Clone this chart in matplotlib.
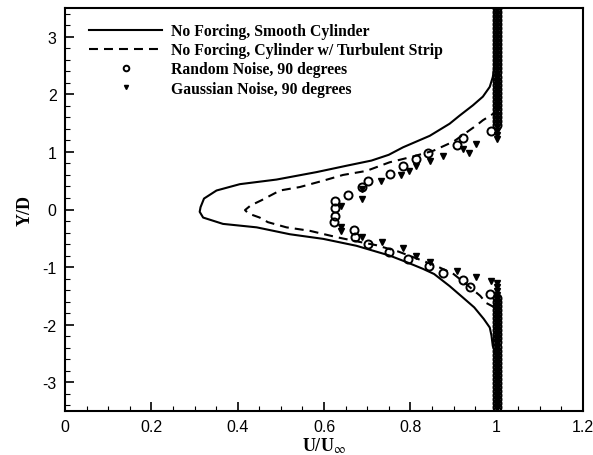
import matplotlib
matplotlib.use("Agg")
import matplotlib.pyplot as plt
from matplotlib.ticker import MultipleLocator

plt.rcParams['axes.unicode_minus'] = False
plt.rcParams['mathtext.fontset'] = 'stix'

# ---- data ----
smooth_u = [1.0, 1.0, 0.995, 0.991, 0.988, 0.984, 0.970, 0.948, 0.925, 0.891, 0.855, 0.829,
            0.790, 0.752, 0.675, 0.598, 0.521, 0.444, 0.366, 0.320, 0.312, 0.314, 0.322,
            0.351, 0.405, 0.490, 0.583, 0.652, 0.710, 0.750, 0.783, 0.845, 0.891, 0.914,
            0.945, 0.968, 0.984, 0.991, 0.995, 1.0, 1.0]
smooth_y = [-3.5, -2.55, -2.45, -2.37, -2.19, -2.05, -1.90, -1.70, -1.55, -1.33, -1.12, -1.03,
            -0.91, -0.80, -0.63, -0.51, -0.43, -0.31, -0.25, -0.14, -0.04, 0.04, 0.19,
            0.33, 0.44, 0.52, 0.65, 0.76, 0.85, 0.95, 1.08, 1.28, 1.49, 1.63,
            1.81, 1.96, 2.13, 2.30, 2.50, 2.70, 3.5]

strip_u = [1.0, 1.0, 0.975, 0.962, 0.930, 0.900, 0.860, 0.818, 0.772, 0.721, 0.667, 0.629,
           0.567, 0.513, 0.470, 0.451, 0.425, 0.417, 0.430, 0.455, 0.498, 0.544, 0.598,
           0.644, 0.698, 0.752, 0.806, 0.853, 0.900, 0.953, 0.968, 1.0, 1.0]
strip_y = [-3.5, -1.72, -1.62, -1.50, -1.30, -1.12, -0.98, -0.86, -0.73, -0.62, -0.54, -0.48,
           -0.37, -0.31, -0.22, -0.14, -0.07, -0.01, 0.07, 0.16, 0.33, 0.39, 0.50,
           0.60, 0.67, 0.82, 0.92, 1.02, 1.18, 1.46, 1.55, 1.70, 3.5]

random_u = [0.988, 0.922, 0.907, 0.841, 0.814, 0.783, 0.752, 0.702, 0.687, 0.656, 0.625,
            0.625, 0.625, 0.623, 0.670, 0.671, 0.702, 0.751, 0.795, 0.843, 0.876, 0.922,
            0.938, 0.984]
random_y = [1.37, 1.24, 1.12, 0.99, 0.88, 0.75, 0.62, 0.50, 0.39, 0.26, 0.14,
            0.02, -0.11, -0.22, -0.35, -0.48, -0.60, -0.73, -0.86, -0.98, -1.11, -1.22,
            -1.35, -1.47]

gauss_u = [0.953, 0.936, 0.922, 0.876, 0.845, 0.814, 0.798, 0.779, 0.733, 0.689, 0.687,
           0.640, 0.640, 0.640, 0.687, 0.735, 0.783, 0.814, 0.845, 0.907, 0.953, 0.988]
gauss_y = [1.14, 0.99, 1.05, 0.93, 0.85, 0.76, 0.67, 0.60, 0.50, 0.36, 0.18,
           0.06, -0.30, -0.37, -0.48, -0.56, -0.67, -0.80, -0.92, -1.06, -1.17, -1.24]

# free-stream points (U/Uinf = 1) outside the wake
freestream_u = 1.0
random_col_y = [1.47, 1.54, 1.61, 1.68, 1.75, 1.82, 1.89, 1.96, 2.03, 2.10, 2.17, 2.24, 2.31,
                2.38, 2.45, 2.52, 2.59, 2.66, 2.73, 2.80, 2.87, 2.94, 3.01, 3.08, 3.15, 3.22,
                3.29, 3.36, 3.43, 3.50,
                -1.54, -1.61, -1.68, -1.75, -1.82, -1.89, -1.96, -2.03, -2.10, -2.17, -2.24,
                -2.31, -2.38, -2.45, -2.52, -2.59, -2.66, -2.73, -2.80, -2.87, -2.94, -3.01,
                -3.08, -3.15, -3.22, -3.29, -3.36, -3.43, -3.50]
gauss_col_y = [1.23, 1.30, 1.37, 1.44, 1.51, 1.58, 1.65, 1.72, 1.79, 1.86, 1.93, 2.00, 2.07,
               2.14, 2.21, 2.28, 2.35, 2.42, 2.49, 2.56, 2.63, 2.70, 2.77, 2.84, 2.91, 2.98,
               3.05, 3.12, 3.19, 3.26, 3.33, 3.40, 3.47,
               -1.27, -1.34, -1.41, -1.48, -1.55, -1.62, -1.69, -1.76, -1.83, -1.90, -1.97,
               -2.04, -2.11, -2.18, -2.25, -2.32, -2.39, -2.46, -2.53, -2.60, -2.67, -2.74,
               -2.81, -2.88, -2.95, -3.02, -3.09, -3.16, -3.23, -3.30, -3.37, -3.44]

labels = ["No Forcing, Smooth Cylinder",
          "No Forcing, Cylinder w/ Turbulent Strip",
          "Random Noise, 90 degrees",
          "Gaussian Noise, 90 degrees"]

xticks = [0, 0.2, 0.4, 0.6, 0.8, 1.0, 1.2]
xticklabels = ["0", "0.2", "0.4", "0.6", "0.8", "1", "1.2"]
yticks = [-3, -2, -1, 0, 1, 2, 3]

# ---- figure ----
fig = plt.figure(figsize=(5.93, 4.56), dpi=100)
ax = fig.add_axes([65/593, 1 - 412/456, (583 - 65)/593, (412 - 9)/456])

circ_style = dict(linestyle='none', marker='o', ms=5.8, mfc='none', mec='black', mew=1.4)
tri_style = dict(linestyle='none', marker='v', ms=4.2, color='black')

l1, = ax.plot(smooth_u, smooth_y, color='black', lw=1.5, label=labels[0])
l2, = ax.plot(strip_u, strip_y, color='black', lw=1.5, dashes=(4.3, 2.9), label=labels[1])

ax.plot([freestream_u] * len(random_col_y), random_col_y, **circ_style)
ax.plot([freestream_u] * len(gauss_col_y), gauss_col_y, **tri_style)
l3, = ax.plot(random_u, random_y, label=labels[2], **circ_style)
l4, = ax.plot(gauss_u, gauss_y, label=labels[3], **tri_style)

ax.set_xlim(0, 1.2)
ax.set_ylim(-3.5, 3.5)
ax.set_xticks(xticks)
ax.set_xticklabels(xticklabels)
ax.set_yticks(yticks)
ax.xaxis.set_minor_locator(MultipleLocator(0.05))
ax.yaxis.set_minor_locator(MultipleLocator(0.2))
ax.tick_params(which='both', direction='in', top=False, right=False, width=1.2)
ax.tick_params(which='major', length=6.5, labelsize=11.5, pad=6)
ax.tick_params(which='minor', length=3.5, width=0.8)
for lab in ax.get_xticklabels() + ax.get_yticklabels():
    lab.set_fontfamily('Liberation Sans')
for sp in ax.spines.values():
    sp.set_linewidth(1.5)

ax.set_xlabel(r'U/U$_{\infty}$', fontfamily='Liberation Serif', fontweight='bold',
              fontsize=13, labelpad=1)
ax.set_ylabel('Y/D', fontfamily='Liberation Serif', fontweight='bold', fontsize=13,
              labelpad=6)

leg = ax.legend(handles=[l1, l2, l3, l4], loc='upper left', bbox_to_anchor=(0.035, 0.978),
                frameon=False, prop={'family': 'Liberation Serif', 'weight': 'bold',
                                     'size': 11.3},
                handlelength=4.6, handletextpad=0.6, labelspacing=0.2, markerscale=0.7,
                borderaxespad=0)

fig.savefig('out.png', dpi=100)
